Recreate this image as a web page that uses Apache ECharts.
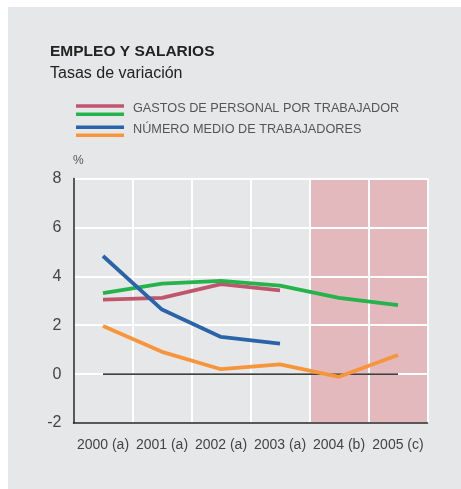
<!DOCTYPE html>
<html>
<head>
<meta charset="utf-8">
<script src="https://cdn.jsdelivr.net/npm/echarts@6/dist/echarts.min.js"></script>
<style>
html,body{margin:0;padding:0;background:#ffffff;}
#wrap{position:relative;width:461px;height:489px;}
#panel{position:absolute;left:8px;top:7px;right:0;bottom:0;background:#e6e7e9;}
#chart{position:absolute;left:0;top:0;width:461px;height:489px;}
</style>
</head>
<body>
<div id="wrap"><div id="panel"></div><div id="chart"></div></div>
<script>
var categories = ['2000 (a)', '2001 (a)', '2002 (a)', '2003 (a)', '2004 (b)', '2005 (c)'];
var gastosPersonal = [3.05, 3.12, 3.68, 3.42, null, null];
var gastosPersonalVerde = [3.31, 3.70, 3.81, 3.62, 3.12, 2.82];
var numeroMedio = [4.83, 2.64, 1.52, 1.25, null, null];
var numeroMedioNaranja = [1.97, 0.91, 0.20, 0.40, -0.11, 0.78];
var shadedTop = [null, null, null, null, 8, 8];
var shadedBottom = [null, null, null, null, -2, -2];
var zeroLine = [0, 0, 0, 0, 0, 0];
var legendLabels = ['GASTOS DE PERSONAL POR TRABAJADOR', 'NÚMERO MEDIO DE TRABAJADORES'];
var yTicks = { min: -2, max: 8, interval: 2 };

var FONT = '"Liberation Sans", Arial, Helvetica, sans-serif';
var chart = echarts.init(document.getElementById('chart'), null, { renderer: 'canvas' });

function lineSeries(name, data, color) {
  return {
    name: name, type: 'line', data: data, z: 5,
    symbol: 'none', smooth: false, connectNulls: false,
    lineStyle: { color: color, width: 3.8, cap: 'butt', join: 'round' },
    itemStyle: { color: color }
  };
}

var option = {
  backgroundColor: 'transparent',
  animation: false,
  textStyle: { fontFamily: FONT },
  grid: { left: 73.5, right: 33.5, top: 178.5, bottom: 66, containLabel: false },
  xAxis: {
    type: 'category', data: categories, boundaryGap: true, z: 3,
    axisLine: { show: true, onZero: false, lineStyle: { color: '#222222', width: 1.5 } },
    axisTick: { show: false },
    axisLabel: { color: '#444444', fontSize: 14, margin: 15, fontFamily: FONT, interval: 0 },
    splitLine: { show: true, interval: 0, lineStyle: { color: '#ffffff', width: 2 } }
  },
  yAxis: {
    type: 'value', min: yTicks.min, max: yTicks.max, interval: yTicks.interval, z: 3,
    axisLine: { show: true, lineStyle: { color: '#222222', width: 1.5 } },
    axisTick: { show: false },
    axisLabel: { color: '#444444', fontSize: 16, margin: 12, fontFamily: FONT },
    splitLine: { show: true, lineStyle: { color: '#ffffff', width: 2 } }
  },
  series: [
    { type: 'bar', stack: 'shade', data: shadedTop, barWidth: '100%', barGap: '-100%', z: 1, silent: true,
      itemStyle: { color: '#e3b9be' } },
    { type: 'bar', stack: 'shade', data: shadedBottom, barWidth: '100%', barGap: '-100%', z: 1, silent: true,
      itemStyle: { color: '#e3b9be' } },
    { type: 'line', data: zeroLine, z: 4, symbol: 'none', silent: true,
      lineStyle: { color: '#000000', width: 1.2 } },
    lineSeries('GASTOS DE PERSONAL (rosa)', gastosPersonal, '#c0566e'),
    lineSeries('GASTOS DE PERSONAL (verde)', gastosPersonalVerde, '#25b34b'),
    lineSeries('NÚMERO MEDIO (azul)', numeroMedio, '#2a64a8'),
    lineSeries('NÚMERO MEDIO (naranja)', numeroMedioNaranja, '#f7953a')
  ],
  graphic: [
    { type: 'text', left: 50, top: 44, style: { text: 'EMPLEO Y SALARIOS', fontFamily: FONT, fontSize: 15.5, fontWeight: 'bold', fill: '#222222' } },
    { type: 'text', left: 50, top: 66, style: { text: 'Tasas de variación', fontFamily: FONT, fontSize: 16, fontWeight: 500, fill: '#222222' } },
    { type: 'line', shape: { x1: 76, y1: 106, x2: 124, y2: 106 }, style: { stroke: '#c0566e', lineWidth: 3.5 } },
    { type: 'line', shape: { x1: 76, y1: 114.3, x2: 124, y2: 114.3 }, style: { stroke: '#25b34b', lineWidth: 3.5 } },
    { type: 'line', shape: { x1: 76, y1: 127.3, x2: 124, y2: 127.3 }, style: { stroke: '#2a64a8', lineWidth: 3.5 } },
    { type: 'line', shape: { x1: 76, y1: 135.3, x2: 124, y2: 135.3 }, style: { stroke: '#f7953a', lineWidth: 3.5 } },
    { type: 'text', left: 133, top: 102, style: { text: legendLabels[0], fontFamily: FONT, fontSize: 12.7, fill: '#555555' } },
    { type: 'text', left: 133, top: 123, style: { text: legendLabels[1], fontFamily: FONT, fontSize: 12.7, fill: '#555555' } },
    { type: 'text', left: 73, top: 155, style: { text: '%', fontFamily: FONT, fontSize: 12, fill: '#555555' } }
  ]
};
chart.setOption(option);
</script>
</body>
</html>
